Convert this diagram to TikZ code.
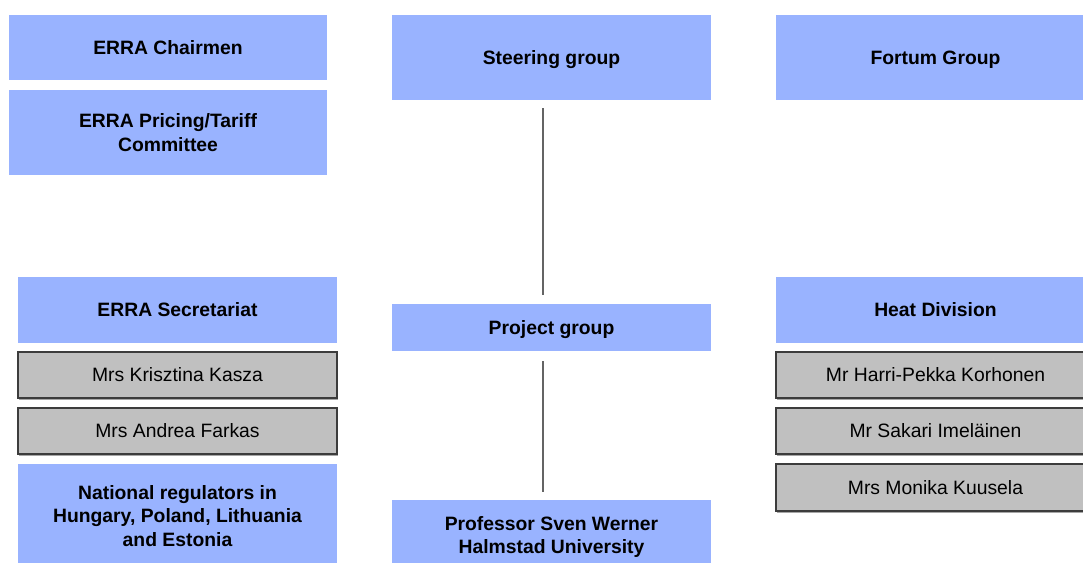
\documentclass[tikz,border=0pt]{standalone}
\usepackage{fontspec}
\setmainfont{Liberation Sans}
\usetikzlibrary{calc,shadows}
\definecolor{boxblue}{RGB}{153,179,255}
\definecolor{boxgray}{RGB}{192,192,192}
\definecolor{edgegray}{RGB}{60,60,60}
\definecolor{linegray}{RGB}{100,100,100}
\newcommand{\boxat}[7]{\node[#6, minimum width={(#4-#2)*0.75pt}, minimum height={(#5-#3)*0.75pt}] (#1) at ({(#2+#4)/2},{(#3+#5)/2}) {#7};}
\tikzset{
  bluebox/.style={fill=boxblue, draw=none, inner sep=0pt, align=center,
    font=\fontsize{14.5pt}{17.6pt}\selectfont\bfseries},
  graybox/.style={fill=boxgray, draw=edgegray, line width=1pt, inner sep=0pt, align=center,
    font=\fontsize{14.5pt}{17.6pt}\selectfont, text height=10.4pt, text depth=0pt,
    drop shadow={shadow xshift=0.8pt, shadow yshift=-1.5pt, opacity=0.35, fill=black}},
  oneline/.style={bluebox, text height=10.4pt, text depth=0pt},
  conn/.style={draw=linegray, line width=1.1pt}
}
\begin{document}
\begin{tikzpicture}[x=0.75pt, y=-0.75pt]
\useasboundingbox (0,0) rectangle (1083,562);
% left column top
\boxat{chair}{9}{15}{327}{80}{oneline}{ERRA Chairmen}
\boxat{pricing}{9}{90}{327}{175}{bluebox}{ERRA Pricing/Tariff\\Committee}
% middle column
\boxat{steer}{392}{15}{711}{100}{oneline}{Steering group}
\boxat{proj}{392}{304}{711}{351}{oneline}{Project group}
\boxat{prof}{392}{500}{711}{574}{bluebox}{Professor Sven Werner\\Halmstad University}
% right column top
\boxat{fortum}{776}{15}{1095}{100}{oneline}{Fortum Group}
% left column bottom
\boxat{secr}{18}{277}{337}{343}{oneline}{ERRA Secretariat}
\boxat{kasza}{18}{352}{337}{398}{graybox}{Mrs Krisztina Kasza}
\boxat{farkas}{18}{408}{337}{454}{graybox}{Mrs Andrea Farkas}
\boxat{natreg}{18}{464}{337}{568}{bluebox}{National regulators in\\Hungary, Poland, Lithuania\\and Estonia}
% right column bottom
\boxat{heat}{776}{277}{1095}{343}{oneline}{Heat Division}
\boxat{korh}{776}{352}{1095}{398}{graybox}{Mr Harri-Pekka Korhonen}
\boxat{imel}{776}{408}{1095}{454}{graybox}{Mr Sakari Imeläinen}
\boxat{kuus}{776}{464}{1095}{511}{graybox}{Mrs Monika Kuusela}
% connectors
\coordinate (lx) at (543,0);
\draw[conn] ($(steer.south -| lx)+(0,8)$) -- ($(proj.north -| lx)+(0,-9)$);
\draw[conn] ($(proj.south -| lx)+(0,10)$) -- ($(prof.north -| lx)+(0,-8)$);
\end{tikzpicture}
\end{document}
